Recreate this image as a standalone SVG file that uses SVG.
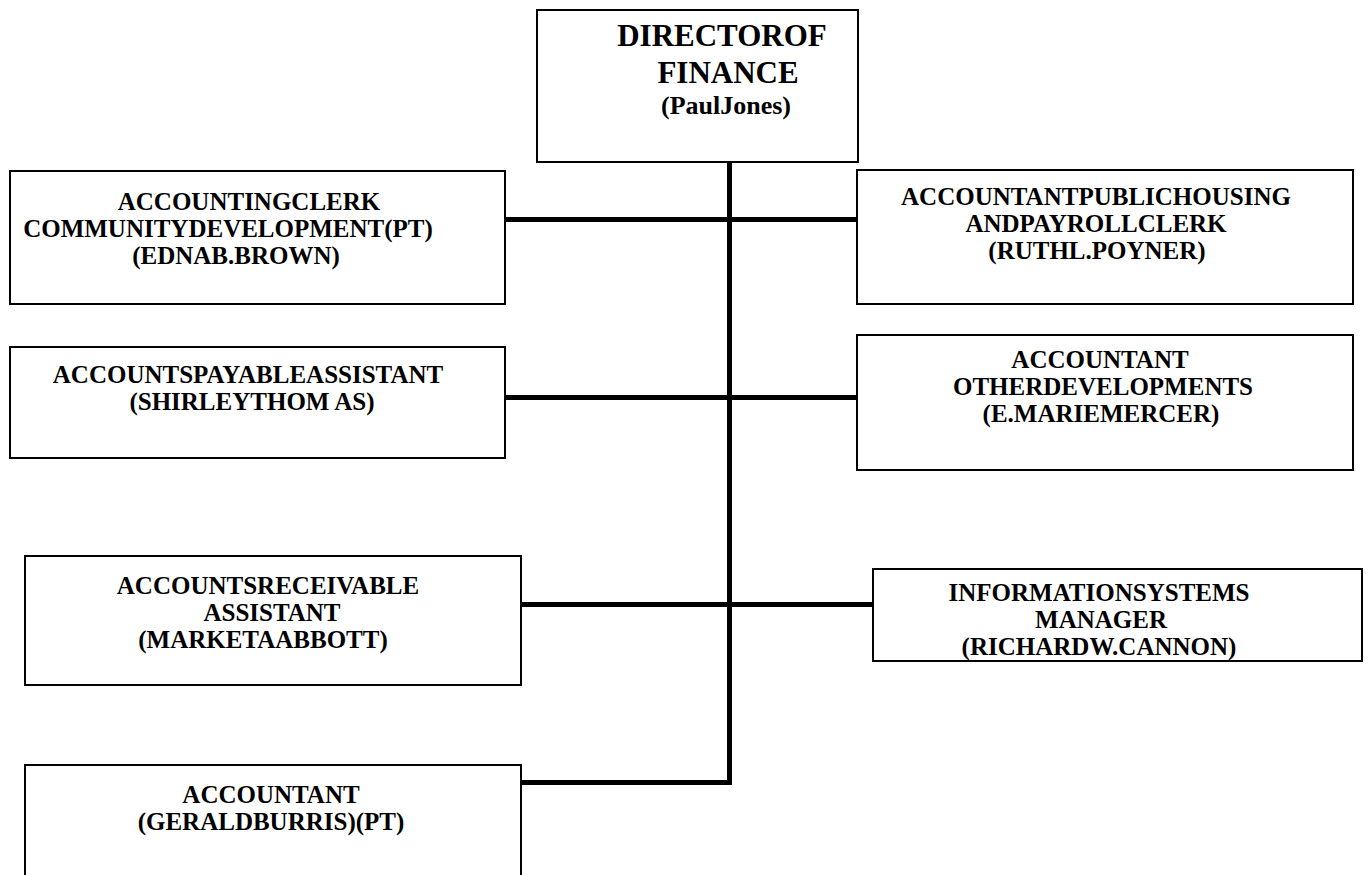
<svg xmlns="http://www.w3.org/2000/svg" width="1370" height="875" viewBox="0 0 1370 875">
  <style>
    .box { fill: #ffffff; stroke: #000000; stroke-width: 2; }
    .link { stroke: #000000; stroke-width: 5; fill: none; stroke-linecap: butt; }
    .t { font-family: "Liberation Serif", "Times New Roman", serif; font-weight: bold; font-size: 25px; text-anchor: middle; fill: #000000; }
    .big { font-size: 31px; }
    .mid { font-size: 26px; }
  </style>
  <rect x="0" y="0" width="1370" height="875" fill="#ffffff"/>

  <!-- reporting lines -->
  <g id="connectors">
    <line class="link" x1="729.5" y1="162" x2="729.5" y2="784.5"/>
    <line class="link" x1="505" y1="219.5" x2="857" y2="219.5"/>
    <line class="link" x1="505" y1="397.5" x2="857" y2="397.5"/>
    <line class="link" x1="521" y1="604.5" x2="873" y2="604.5"/>
    <line class="link" x1="521" y1="782.5" x2="732" y2="782.5"/>
  </g>

  <g id="director">
    <rect class="box" x="537" y="10" width="321" height="152"/>
    <text class="t big" x="722" y="46">DIRECTOROF</text>
    <text class="t big" x="728" y="83">FINANCE</text>
    <text class="t mid" x="726" y="114">(PaulJones)</text>
  </g>

  <g id="accounting-clerk">
    <rect class="box" x="10" y="171" width="495" height="133"/>
    <text class="t" x="249" y="210">ACCOUNTINGCLERK</text>
    <text class="t" x="228" y="237">COMMUNITYDEVELOPMENT(PT)</text>
    <text class="t" x="236" y="264">(EDNAB.BROWN)</text>
  </g>

  <g id="public-housing">
    <rect class="box" x="857" y="170" width="496" height="134"/>
    <text class="t" x="1096" y="205">ACCOUNTANTPUBLICHOUSING</text>
    <text class="t" x="1096" y="232">ANDPAYROLLCLERK</text>
    <text class="t" x="1097" y="259">(RUTHL.POYNER)</text>
  </g>

  <g id="payable">
    <rect class="box" x="10" y="347" width="495" height="111"/>
    <text class="t" x="248" y="383">ACCOUNTSPAYABLEASSISTANT</text>
    <text class="t" x="252" y="410">(SHIRLEYTHOM AS)</text>
  </g>

  <g id="other-developments">
    <rect class="box" x="857" y="335" width="496" height="135"/>
    <text class="t" x="1100" y="368">ACCOUNTANT</text>
    <text class="t" x="1103" y="395">OTHERDEVELOPMENTS</text>
    <text class="t" x="1101" y="422">(E.MARIEMERCER)</text>
  </g>

  <g id="receivable">
    <rect class="box" x="25" y="556" width="496" height="129"/>
    <text class="t" x="268" y="594">ACCOUNTSRECEIVABLE</text>
    <text class="t" x="272" y="621">ASSISTANT</text>
    <text class="t" x="263" y="648">(MARKETAABBOTT)</text>
  </g>

  <g id="information-systems">
    <rect class="box" x="873" y="569" width="489" height="92"/>
    <text class="t" x="1099" y="601">INFORMATIONSYSTEMS</text>
    <text class="t" x="1101" y="628">MANAGER</text>
    <text class="t" x="1099" y="655">(RICHARDW.CANNON)</text>
  </g>

  <g id="accountant-pt">
    <rect class="box" x="25" y="765" width="496" height="120"/>
    <text class="t" x="271" y="803">ACCOUNTANT</text>
    <text class="t" x="271" y="830">(GERALDBURRIS)(PT)</text>
  </g>
</svg>
